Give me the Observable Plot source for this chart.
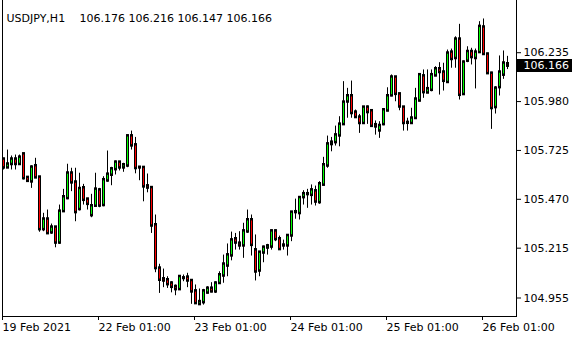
<!DOCTYPE html>
<html><head><meta charset="utf-8">
<script src="https://cdn.jsdelivr.net/npm/d3@7"></script>
<script src="https://cdn.jsdelivr.net/npm/@observablehq/plot@0.6"></script>
<style>
html,body{margin:0;padding:0;background:#fff;}
#chart svg{display:block;}
</style></head><body><div id="chart"></div>
<script>
const symbol = "USDJPY,H1";
const headerValues = ["106.176", "106.216", "106.147", "106.166"];
const lastPrice = 106.166;

const open = [
105.679, 105.635, 105.653, 105.679, 105.653, 105.706, 105.583, 105.562, 105.644, 105.585,
105.313, 105.366, 105.296, 105.324, 105.243, 105.407, 105.475, 105.606, 105.559, 105.418,
105.529, 105.470, 105.386, 105.435, 105.518, 105.439, 105.567, 105.597, 105.626, 105.663,
105.635, 105.645, 105.800, 105.753, 105.635, 105.635, 105.539, 105.530, 105.336, 105.110,
105.054, 105.049, 105.032, 105.014, 105.000, 105.058, 105.063, 105.045, 104.991, 104.922,
104.932, 104.982, 105.005, 104.988, 105.032, 105.071, 105.123, 105.176, 105.263, 105.240,
105.228, 105.301, 105.362, 105.205, 105.097, 105.191, 105.217, 105.222, 105.304, 105.263,
105.228, 105.228, 105.280, 105.402, 105.397, 105.480, 105.496, 105.492, 105.513, 105.454,
105.545, 105.645, 105.757, 105.767, 105.802, 105.861, 105.979, 106.009, 105.924, 105.898,
105.867, 105.950, 105.931, 105.858, 105.828, 105.861, 105.932, 106.011, 106.107, 106.019,
105.950, 105.868, 105.867, 105.893, 105.984, 106.113, 106.026, 106.040, 106.115, 106.150,
106.133, 106.081, 106.237, 106.206, 106.305, 106.018, 106.192, 106.240, 106.206, 106.237,
106.368, 106.227, 106.127, 105.950, 106.054, 106.119, 106.176
];
const high = [
105.684, 105.727, 105.696, 105.701, 105.701, 105.710, 105.588, 105.645, 105.684, 105.588,
105.397, 105.414, 105.341, 105.327, 105.440, 105.522, 105.653, 105.632, 105.632, 105.606,
105.548, 105.475, 105.496, 105.606, 105.527, 105.588, 105.722, 105.637, 105.670, 105.666,
105.658, 105.805, 105.826, 105.793, 105.640, 105.640, 105.602, 105.536, 105.388, 105.131,
105.106, 105.066, 105.040, 105.023, 105.070, 105.075, 105.084, 105.049, 105.023, 105.002,
105.000, 105.014, 105.035, 105.040, 105.092, 105.179, 105.237, 105.299, 105.292, 105.301,
105.345, 105.414, 105.388, 105.284, 105.196, 105.226, 105.235, 105.310, 105.310, 105.278,
105.257, 105.284, 105.405, 105.471, 105.483, 105.515, 105.522, 105.545, 105.539, 105.562,
105.689, 105.800, 105.793, 105.852, 105.901, 106.084, 106.049, 106.087, 105.936, 105.913,
105.953, 105.957, 105.936, 105.879, 105.875, 105.940, 106.052, 106.119, 106.108, 106.023,
105.953, 105.893, 105.945, 106.049, 106.122, 106.145, 106.145, 106.145, 106.162, 106.183,
106.180, 106.249, 106.254, 106.318, 106.383, 106.192, 106.266, 106.258, 106.254, 106.397,
106.411, 106.232, 106.133, 106.058, 106.218, 106.244, 106.216
];
const low = [
105.623, 105.632, 105.623, 105.623, 105.649, 105.571, 105.559, 105.527, 105.579, 105.298,
105.301, 105.287, 105.287, 105.217, 105.235, 105.402, 105.468, 105.510, 105.353, 105.409,
105.440, 105.414, 105.374, 105.431, 105.426, 105.431, 105.559, 105.541, 105.597, 105.618,
105.611, 105.635, 105.727, 105.603, 105.567, 105.457, 105.504, 105.292, 105.087, 104.979,
105.009, 105.005, 104.982, 104.967, 104.997, 105.040, 105.009, 104.922, 104.922, 104.918,
104.918, 104.976, 104.982, 104.979, 105.028, 105.032, 105.066, 105.149, 105.205, 105.205,
105.162, 105.292, 105.174, 105.044, 105.066, 105.139, 105.179, 105.205, 105.249, 105.205,
105.205, 105.174, 105.249, 105.366, 105.362, 105.440, 105.423, 105.440, 105.435, 105.444,
105.541, 105.632, 105.718, 105.748, 105.744, 105.858, 105.893, 105.893, 105.893, 105.814,
105.861, 105.861, 105.849, 105.805, 105.788, 105.854, 105.927, 106.005, 105.979, 105.932,
105.826, 105.826, 105.863, 105.887, 105.979, 105.997, 106.023, 106.031, 106.110, 106.014,
106.035, 106.075, 106.154, 106.154, 105.988, 106.014, 106.183, 106.171, 106.046, 106.232,
106.223, 106.122, 105.835, 105.915, 106.009, 106.096, 106.147
];
const close = [
105.635, 105.653, 105.679, 105.653, 105.689, 105.579, 105.565, 105.637, 105.583, 105.313,
105.366, 105.292, 105.324, 105.243, 105.407, 105.482, 105.606, 105.557, 105.402, 105.525,
105.466, 105.445, 105.435, 105.522, 105.436, 105.571, 105.600, 105.628, 105.663, 105.635,
105.649, 105.800, 105.750, 105.632, 105.636, 105.536, 105.530, 105.332, 105.110, 105.049,
105.045, 105.026, 105.012, 105.000, 105.066, 105.059, 105.045, 104.988, 104.927, 104.935,
104.991, 105.005, 104.988, 105.032, 105.075, 105.131, 105.179, 105.257, 105.243, 105.228,
105.304, 105.362, 105.231, 105.092, 105.193, 105.219, 105.226, 105.304, 105.261, 105.209,
105.230, 105.280, 105.402, 105.404, 105.478, 105.498, 105.498, 105.518, 105.457, 105.550,
105.649, 105.758, 105.767, 105.805, 105.861, 105.976, 106.009, 105.919, 105.898, 105.867,
105.950, 105.924, 105.852, 105.849, 105.854, 105.936, 106.009, 106.107, 106.019, 105.953,
105.867, 105.870, 105.893, 105.992, 106.119, 106.028, 106.046, 106.119, 106.150, 106.133,
106.087, 106.232, 106.201, 106.305, 106.014, 106.185, 106.240, 106.211, 106.237, 106.371,
106.227, 106.127, 105.945, 106.049, 106.133, 106.180, 106.166
];

const xTickIndex = [0, 24, 48, 72, 96, 120];
const xTickLabels = ["19 Feb 2021", "22 Feb 01:00", "23 Feb 01:00", "24 Feb 01:00", "25 Feb 01:00", "26 Feb 01:00"];
const yTicks = [104.955, 105.215, 105.470, 105.725, 105.980, 106.235];

const bars = open.map((o, i) => ({
  i, open: o, high: high[i], low: low[i], close: close[i],
  top: Math.max(o, close[i]), bottom: Math.min(o, close[i])
}));
const up = bars.filter(d => d.close >= d.open && d.close - d.open >= 0.006);
const down = bars.filter(d => d.close < d.open && d.open - d.close >= 0.006);

const FONT = "DejaVu Sans";
const W = 580, H = 340, ML = 2, MR = 64, MB = 24;

const svg = Plot.plot({
  width: W, height: H,
  marginTop: 0, marginLeft: ML, marginRight: MR, marginBottom: MB,
  style: {fontFamily: FONT, fontSize: "11px", background: "#fff", color: "#000", overflow: "visible"},
  x: {type: "linear", domain: [-0.25, 128.25]},
  y: {domain: [104.8585, 106.5074]},
  marks: [
    Plot.frame({stroke: "#000", insetTop: -3}),
    // wicks
    Plot.ruleX(bars, {x: "i", y1: "low", y2: "high", stroke: "#000", strokeWidth: 1}),
    // body outline
    Plot.ruleX(bars, {x: "i", y1: "top", y2: "bottom", stroke: "#000", strokeWidth: 3, strokeLinecap: "square"}),
    // body fill
    Plot.ruleX(up, {x: "i", y1: "top", y2: "bottom", stroke: "#00ff00", strokeWidth: 1, insetTop: 1, insetBottom: 1}),
    Plot.ruleX(down, {x: "i", y1: "top", y2: "bottom", stroke: "#ff0000", strokeWidth: 1, insetTop: 1, insetBottom: 1}),
    Plot.axisX({ticks: xTickIndex, tickFormat: d => xTickLabels[xTickIndex.indexOf(d)], tickSize: 4, tickPadding: 3, textAnchor: "start", dx: -1, fill: "#000", stroke: "#000", label: null}),
    Plot.axisY({anchor: "right", ticks: yTicks, tickFormat: d => d.toFixed(3), tickSize: 4, tickPadding: 3, fill: "#000", stroke: "#000", label: null}),
    Plot.text([symbol], {frameAnchor: "top-left", dx: 4, dy: 14, textAnchor: "start", fill: "#000", text: d => d}),
    Plot.text([headerValues.join(" ")], {frameAnchor: "top-left", dx: 77, dy: 14, textAnchor: "start", fill: "#000", text: d => d})
  ]
});
document.getElementById("chart").appendChild(svg);

// current-price label: black box with white text, placed through the y scale
const NS = "http://www.w3.org/2000/svg";
const yPix = Math.round(svg.scale("y").apply(lastPrice)) + 0.5;
const gLabel = document.createElementNS(NS, "g");
const box = document.createElementNS(NS, "rect");
box.setAttribute("x", W - MR + 1);
box.setAttribute("y", Math.round(yPix) - 7);
box.setAttribute("width", 55);
box.setAttribute("height", 13);
box.setAttribute("fill", "#000");
const txt = document.createElementNS(NS, "text");
txt.setAttribute("x", W - MR + 7.5);
txt.setAttribute("y", yPix);
txt.setAttribute("dy", "0.34em");
txt.setAttribute("fill", "#fff");
txt.setAttribute("text-anchor", "start");
txt.setAttribute("font-family", FONT);
txt.setAttribute("font-size", "11");
txt.textContent = lastPrice.toFixed(3);
gLabel.appendChild(box);
gLabel.appendChild(txt);
svg.appendChild(gLabel);
</script></body></html>
